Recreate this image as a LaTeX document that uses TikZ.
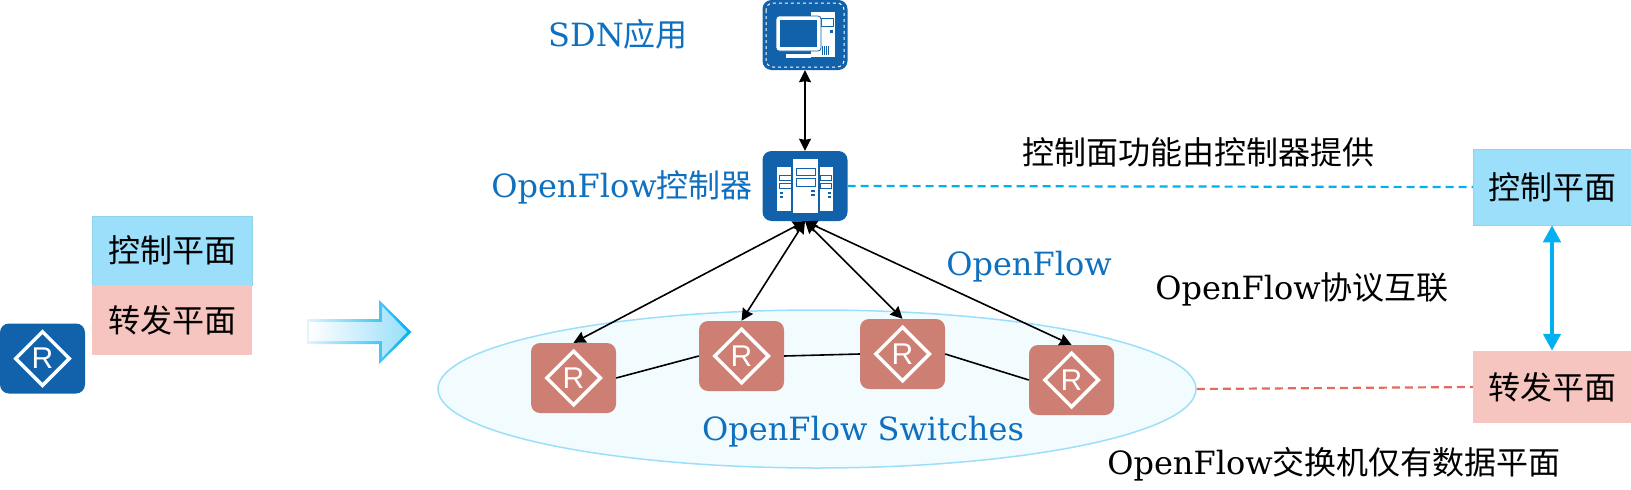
\documentclass[tikz,border=0pt]{standalone}
\usepackage{fontspec}
\setmainfont{DejaVu Serif}
\newfontfamily\cjk{Noto Sans CJK SC}
\newfontfamily\arialfont{Liberation Sans}
\usepackage{tikz}
\usetikzlibrary{arrows.meta,shapes.geometric,shadings}
\definecolor{iconblue}{HTML}{1262AB}
\definecolor{routerred}{HTML}{CD7F73}
\definecolor{ctrlblue}{HTML}{9BDFFA}
\definecolor{fwdpink}{HTML}{F7C5C0}
\definecolor{textblue}{HTML}{0F70BF}
\definecolor{linecyan}{HTML}{00B0F0}
\definecolor{linered}{HTML}{E46C5D}
\tikzset{
  iconbox/.style={draw=none, fill=iconblue, rounded corners=9pt, minimum width=85pt, minimum height=70pt},
  routerbox/.style={iconbox, fill=routerred},
  routermark/.style={diamond, draw=white, line width=3.5pt, aspect=1, inner sep=0pt, minimum width=55pt, minimum height=55pt,
    text=white, font=\arialfont\fontsize{30}{30}\selectfont},
  planebox/.style={draw=ctrlblue!95!black, line width=0.5pt, fill=ctrlblue, minimum width=158pt, minimum height=72pt, font=\cjk\fontsize{32}{32}\selectfont},
  fwdbox/.style={planebox, draw=none, fill=fwdpink},
  label/.style={font=\fontsize{32}{32}\selectfont},
  bluelabel/.style={label, text=textblue},
  link/.style={black, line width=1.6pt, {Stealth[length=12pt,width=12pt,inset=1pt]}-{Stealth[length=12pt,width=12pt,inset=1pt]}},
  planelink/.style={line width=2.2pt, dash pattern=on 8pt off 5pt}
}
\begin{document}
\begin{tikzpicture}[x=1pt,y=-1pt]
  \useasboundingbox (0,0) rectangle (1631,490);

  % Ellipse
  \node[ellipse, draw=ctrlblue, line width=1.5pt, fill=ctrlblue!13, minimum width=758pt, minimum height=158pt, inner sep=0pt] (swarea) at (817,389) {};

  % Left side
  \node[routerbox, fill=iconblue] (r0) at (42.5,358.5) {};
  \node[routermark] (r0m) at (r0) {R};
  \node[planebox, minimum width=160pt, minimum height=69pt] (ctrlleft) at (172,250.5) {控制平面};
  \node[fwdbox, minimum width=160pt, minimum height=70pt] (fwdleft) at (172,320) {转发平面};

  % Big arrow
  \shade[left color=ctrlblue!30, right color=linecyan] (307,319) -- (379,319) -- (379,300) -- (411.5,332) -- (379,364) -- (379,344) -- (307,344) -- cycle;
  \shade[left color=white, right color=ctrlblue] (309,322) -- (382,322) -- (382,306) -- (407,332) -- (382,358) -- (382,341) -- (309,341) -- cycle;

  % Top icons
  \node[iconbox] (app) at (805,35) {};
  \draw[white, line width=1pt, dashed, rounded corners=7pt] (766,3) rectangle (844,67);
  \fill[white] (811,12) rectangle (835,57);
  \draw[iconblue, fill=white, line width=0.8pt] (821,18) rectangle (833,26);
  \fill[iconblue] (830,30) rectangle (833,33);
  \foreach \ventx in {822,824,826,828} {\fill[iconblue] (\ventx,46) rectangle ++(0.9,9);}
  \draw[iconblue, fill=white, line width=0.8pt, rounded corners=3pt] (776,16) rectangle (821,51);
  \fill[iconblue] (780,20) rectangle (817,47);
  \fill[white] (786,54) rectangle (811,58);

  \node[iconbox] (ctrl) at (805,186) {};
  \fill[white] (793,159) rectangle (818,213);
  \fill[white] (777,167) rectangle (791,211);
  \fill[white] (820,167) rectangle (833,211);
  \draw[iconblue, line width=1pt] (796,168) rectangle (815,175);
  \draw[iconblue, line width=1pt] (796,178) rectangle (815,186);
  \draw[iconblue, line width=1pt] (779,175) rectangle (791,180);
  \draw[iconblue, line width=1pt] (779,183) rectangle (791,188);
  \draw[iconblue, line width=1pt] (820,175) rectangle (831,180);
  \draw[iconblue, line width=1pt] (820,183) rectangle (831,188);
  \foreach \doty in {190,194} {\fill[iconblue] (811,\doty) rectangle ++(4,2);}
  \foreach \doty in {192,196} {\fill[iconblue] (780,\doty) rectangle ++(3,2);}
  \foreach \doty in {192,196} {\fill[iconblue] (828,\doty) rectangle ++(3,2);}

  % Routers
  \node[routerbox] (r1) at (573.5,378) {};
  \node[routermark] (r1m) at (r1) {R};
  \node[routerbox] (r2) at (741.5,356) {};
  \node[routermark] (r2m) at (r2) {R};
  \node[routerbox] (r3) at (902.5,354) {};
  \node[routermark] (r3m) at (r3) {R};
  \node[routerbox] (r4) at (1071.5,380) {};
  \node[routermark] (r4m) at (r4) {R};

  % Right side
  \node[planebox, minimum height=76pt] (ctrlright) at (1552,187) {控制平面};
  \node[fwdbox] (fwdright) at (1552,387) {转发平面};

  % Labels
  \node[bluelabel] (sdnlabel) at (618,34) {SDN{\cjk 应用}};
  \node[bluelabel] (ctrllabel) at (622,187) {OpenFlow{\cjk 控制器}};
  \node[bluelabel] (oflabel) at (1029,267) {OpenFlow};
  \node[bluelabel] (swlabel) at (863,432) {OpenFlow Switches};
  \node[label] (ctrltext) at (1198,152) {\cjk 控制面功能由控制器提供};
  \node[label] (protolabel) at (1302,289) {OpenFlow{\cjk 协议互联}};
  \node[label] (datatext) at (1334,464) {OpenFlow{\cjk 交换机仅有数据平面}};

  % Edges
  \draw[link] (app.south) -- (ctrl.north);
  \draw[link] (ctrl.south) -- (r1.north);
  \draw[link] (ctrl.south) -- (r2.north);
  \draw[link] (ctrl.south) -- (r3.north);
  \draw[link] (ctrl.south) -- (r4.north);

  \draw[black, line width=1.6pt] (r1.east) -- (r2.west);
  \draw[black, line width=1.6pt] (r2.east) -- (r3.west);
  \draw[black, line width=1.6pt] (r3.east) -- (r4.west);

  \draw[linecyan, planelink] (ctrl.east) -- (ctrlright.west);
  \draw[linered, planelink] (swarea.east) -- (fwdright.west);
  \draw[linecyan, line width=4.5pt, {Stealth[length=17pt,width=17pt,inset=0pt]}-{Stealth[length=17pt,width=17pt,inset=0pt]}] (ctrlright.south) -- (fwdright.north);
\end{tikzpicture}
\end{document}
